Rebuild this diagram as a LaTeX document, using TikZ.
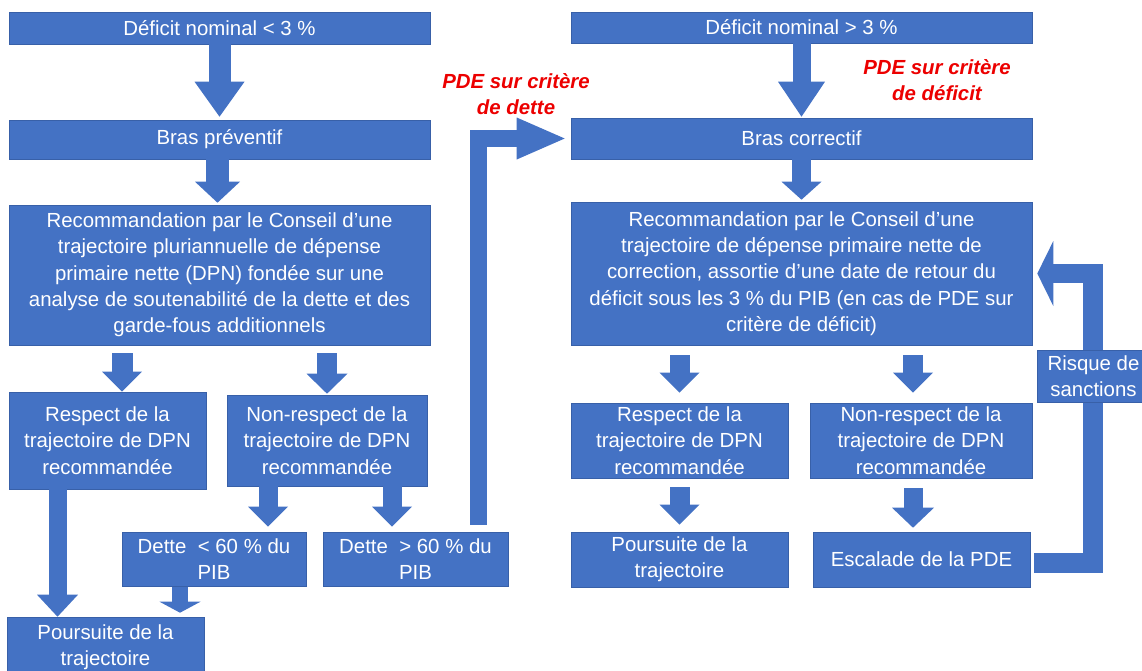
\documentclass[tikz,border=0pt]{standalone}
\usepackage{fontspec}
\setmainfont{Liberation Sans}
\usetikzlibrary{arrows.meta}

\definecolor{boxblue}{RGB}{68,114,196}
\definecolor{edgeblue}{RGB}{56,96,168}
\definecolor{pdered}{RGB}{236,0,0}

\tikzset{
  box/.style={fill=boxblue,draw=edgeblue,line width=0.6pt,text=white,align=center,
    inner sep=0pt,font=\fontsize{20.4}{26.3}\selectfont},
  lbl/.style={text=pdered,align=center,font=\fontsize{20.4}{26}\selectfont\bfseries\itshape},
  fat/.style n args={3}{draw=boxblue,line width=#1,
    -{Triangle[width=#2,length=#3,line width=0pt]}},
}

\begin{document}
\begin{tikzpicture}[x=1pt,y=-1pt]
\useasboundingbox (0,0) rectangle (1142,670);

% bras preventif
\node[box,minimum width=421pt,minimum height=32pt] (defA) at (219.5,28) {Déficit nominal < 3 \%};
\node[box,minimum width=421pt,minimum height=39pt] (bprev) at (219.5,139.5) {Bras préventif};
\node[box,minimum width=421pt,minimum height=140pt] (recoL) at (219.5,275) {Recommandation par le Conseil d’une\\trajectoire pluriannuelle de dépense\\primaire nette (DPN) fondée sur une\\analyse de soutenabilité de la dette et des\\garde-fous additionnels};
\node[box,minimum width=197pt,minimum height=97pt] (respL) at (107.5,440.5) {Respect de la\\trajectoire de DPN\\recommandée};
\node[box,minimum width=200pt,minimum height=91pt] (nonL) at (327,440.5) {Non-respect de la\\trajectoire de DPN\\recommandée};
\node[box,minimum width=184pt,minimum height=54pt] (detteInf) at (214,559) {Dette \ < 60 \% du\\PIB};
\node[box,minimum width=185pt,minimum height=54pt] (detteSup) at (415.5,559) {Dette \ > 60 \% du\\PIB};
\node[box,minimum width=197pt,minimum height=60pt] (poursL) at (105.5,647) {Poursuite de la\\trajectoire};

% bras correctif
\node[box,minimum width=461pt,minimum height=31pt] (defD) at (801.5,27.5) {Déficit nominal > 3 \%};
\node[box,minimum width=461pt,minimum height=41pt] (bcorr) at (801.5,138.5) {Bras correctif};
\node[box,minimum width=461pt,minimum height=143pt] (recoR) at (801.5,273.5) {Recommandation par le Conseil d’une\\trajectoire de dépense primaire nette de\\correction, assortie d’une date de retour du\\déficit sous les 3 \% du PIB (en cas de PDE sur\\critère de déficit)};
\node[box,minimum width=217pt,minimum height=75pt] (respR) at (679.5,440.5) {Respect de la\\trajectoire de DPN\\recommandée};
\node[box,minimum width=222pt,minimum height=75pt] (nonR) at (921,440.5) {Non-respect de la\\trajectoire de DPN\\recommandée};
\node[box,minimum width=217pt,minimum height=55pt] (poursR) at (679.5,559.5) {Poursuite de la\\trajectoire};
\node[box,minimum width=217pt,minimum height=55pt] (escal) at (921.5,559.5) {Escalade de la PDE};

\node[lbl] (critDette) at (516,94) {PDE sur critère\\de dette};
\node[lbl] (critDeficit) at (937,80.5) {PDE sur critère\\de déficit};

% fleches gauche
\draw[fat={22pt}{50pt}{35pt},shorten >=3pt] (defA.south) -- (bprev.north);
\draw[fat={23pt}{45pt}{21pt},shorten >=2pt] ([xshift=-2pt]bprev.south) -- ([xshift=-2pt]recoL.north);
\draw[fat={21pt}{40pt}{20pt},shorten <=8pt] ([xshift=14.5pt]respL.north |- recoL.south) -- ([xshift=14.5pt]respL.north);
\draw[fat={20pt}{41pt}{20pt},shorten <=8pt,shorten >=1pt] (nonL.north |- recoL.south) -- (nonL.north);
\draw[fat={19pt}{40pt}{20pt},shorten >=5pt] ([xshift=54pt]detteInf.north |- nonL.south) -- ([xshift=54pt]detteInf.north);
\draw[fat={19pt}{40pt}{20pt},shorten >=5pt] ([xshift=-23.5pt]detteSup.north |- nonL.south) -- ([xshift=-23.5pt]detteSup.north);
\draw[fat={18pt}{41pt}{22pt}] ([xshift=-48pt]poursL.north |- respL.south) -- ([xshift=-48pt]poursL.north);
\draw[fat={16pt}{41pt}{11pt},shorten <=1pt,shorten >=4pt] ([xshift=74.5pt]poursL.north |- detteInf.south) -- ([xshift=74.5pt]poursL.north);
\draw[fat={17.5pt}{42pt}{48pt},shorten <=7pt,shorten >=6pt] ([xshift=63pt]detteSup.north) |- (bcorr.west);

% fleches droite
\draw[fat={18pt}{47pt}{35pt},shorten >=1pt] (defD.south) -- (bcorr.north);
\draw[fat={19pt}{40pt}{18pt},shorten >=2pt] (bcorr.south) -- (recoR.north);
\draw[fat={20pt}{40pt}{20pt},shorten <=10pt,shorten >=10pt] (respR.north |- recoR.south) -- (respR.north);
\draw[fat={20pt}{40pt}{20pt},shorten <=10pt,shorten >=10pt] ([xshift=-8pt]nonR.north |- recoR.south) -- ([xshift=-8pt]nonR.north);
\draw[fat={20pt}{40pt}{20pt},shorten <=9pt,shorten >=7pt] (poursR.north |- respR.south) -- (poursR.north);
\draw[fat={19pt}{42pt}{20pt},shorten <=10pt,shorten >=4pt] ([xshift=-8.5pt]escal.north |- nonR.south) -- ([xshift=-8.5pt]escal.north);
\draw[fat={19.5pt}{65pt}{16pt},shorten <=4pt,shorten >=5pt] ([yshift=-3.5pt]escal.east) -- ++(62.5,0) |- (recoR.east);

\node[box,minimum width=113pt,minimum height=52pt] (risque) at (1093.5,376) {Risque de\\sanctions};

\end{tikzpicture}
\end{document}
